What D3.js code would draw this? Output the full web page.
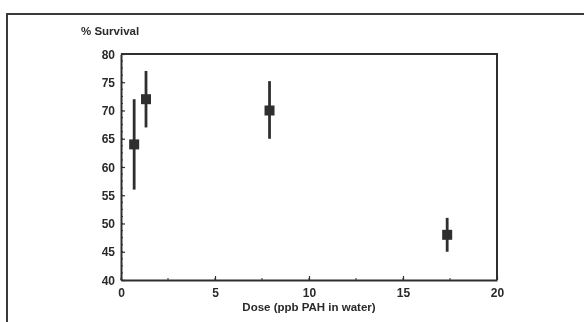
<!DOCTYPE html>
<html>
<head>
<meta charset="utf-8">
<script src="https://cdn.jsdelivr.net/npm/d3@7"></script>
<style>
  html, body { margin: 0; padding: 0; background: #fff; }
  svg { display: block; filter: blur(0.35px); }
  text { font-family: "Liberation Sans", Arial, sans-serif; fill: #2a2a2a; }
</style>
</head>
<body>
<div id="chart"></div>
<script>
const doses = [0.7, 1.33, 7.9, 17.35];
const survival = [64, 72, 70, 48];
const errLow = [56, 67, 65, 45];
const errHigh = [72, 77, 75.2, 51];
const xTicks = [0, 5, 10, 15, 20];
const yTicks = [40, 45, 50, 55, 60, 65, 70, 75, 80];

const width = 584, height = 322;
const plotL = 121, plotR = 497, plotT = 54, plotB = 280;
const ink = "#2f2f2f";

const svg = d3.select("#chart").append("svg")
    .attr("width", width)
    .attr("height", height);

// outer figure frame (runs off right and bottom edges)
svg.append("path")
    .attr("d", "M7," + height + " L7,14 L" + width + ",14")
    .attr("fill", "none")
    .attr("stroke", "#3a3a3a")
    .attr("stroke-width", 2);

const x = d3.scaleLinear().domain([0, 20]).range([plotL, plotR]);
const y = d3.scaleLinear().domain([40, 80]).range([plotB, plotT]);

// minor ticks
const g = svg.append("g");
g.selectAll(".xminor").data(d3.range(0, 20.01, 2.5)).join("line")
    .attr("x1", d => x(d)).attr("x2", d => x(d))
    .attr("y1", plotB).attr("y2", plotB - 2)
    .attr("stroke", ink).attr("stroke-width", 1);
g.selectAll(".yminor").data(d3.range(40, 80.01, 1.25)).join("line")
    .attr("x1", plotL).attr("x2", plotL + 2)
    .attr("y1", d => y(d)).attr("y2", d => y(d))
    .attr("stroke", ink).attr("stroke-width", 1);

// axes, ticks pointing inward
const xAxis = svg.append("g")
    .attr("transform", "translate(0," + plotB + ")")
    .call(d3.axisBottom(x).tickValues(xTicks).tickSize(-4).tickPadding(8).tickSizeOuter(0));
const yAxis = svg.append("g")
    .attr("transform", "translate(" + plotL + ",0)")
    .call(d3.axisLeft(y).tickValues(yTicks).tickSize(-4).tickPadding(6).tickSizeOuter(0));

[xAxis, yAxis].forEach(a => {
    a.select(".domain").attr("stroke", ink).attr("stroke-width", 2);
    a.selectAll(".tick line").attr("stroke", ink).attr("stroke-width", 1.2);
    a.selectAll(".tick text")
        .attr("font-size", 12)
        .attr("font-weight", "bold")
        .attr("fill", "#2a2a2a")
        .style("font-family", "'Liberation Sans', Arial, sans-serif");
});
yAxis.selectAll(".tick text").attr("dy", "0.35em");

// top and right frame
svg.append("path")
    .attr("d", "M" + plotL + "," + plotT + " L" + plotR + "," + plotT + " L" + plotR + "," + plotB)
    .attr("fill", "none")
    .attr("stroke", ink)
    .attr("stroke-width", 2);

// error bars
svg.append("g").selectAll("line").data(doses).join("line")
    .attr("x1", d => x(d)).attr("x2", d => x(d))
    .attr("y1", (d, i) => y(errLow[i])).attr("y2", (d, i) => y(errHigh[i]))
    .attr("stroke", ink).attr("stroke-width", 2.8);

// square markers
const s = 10;
svg.append("g").selectAll("rect").data(doses).join("rect")
    .attr("x", d => x(d) - s / 2)
    .attr("y", (d, i) => y(survival[i]) - s / 2)
    .attr("width", s).attr("height", s)
    .attr("fill", ink);

// labels
svg.append("text")
    .attr("x", 81).attr("y", 35)
    .attr("font-size", 11.5).attr("font-weight", "bold")
    .text("% Survival");

svg.append("text")
    .attr("x", (plotL + plotR) / 2).attr("y", 311)
    .attr("text-anchor", "middle")
    .attr("font-size", 11.5).attr("font-weight", "bold")
    .text("Dose (ppb PAH in water)");
</script>
</body>
</html>
